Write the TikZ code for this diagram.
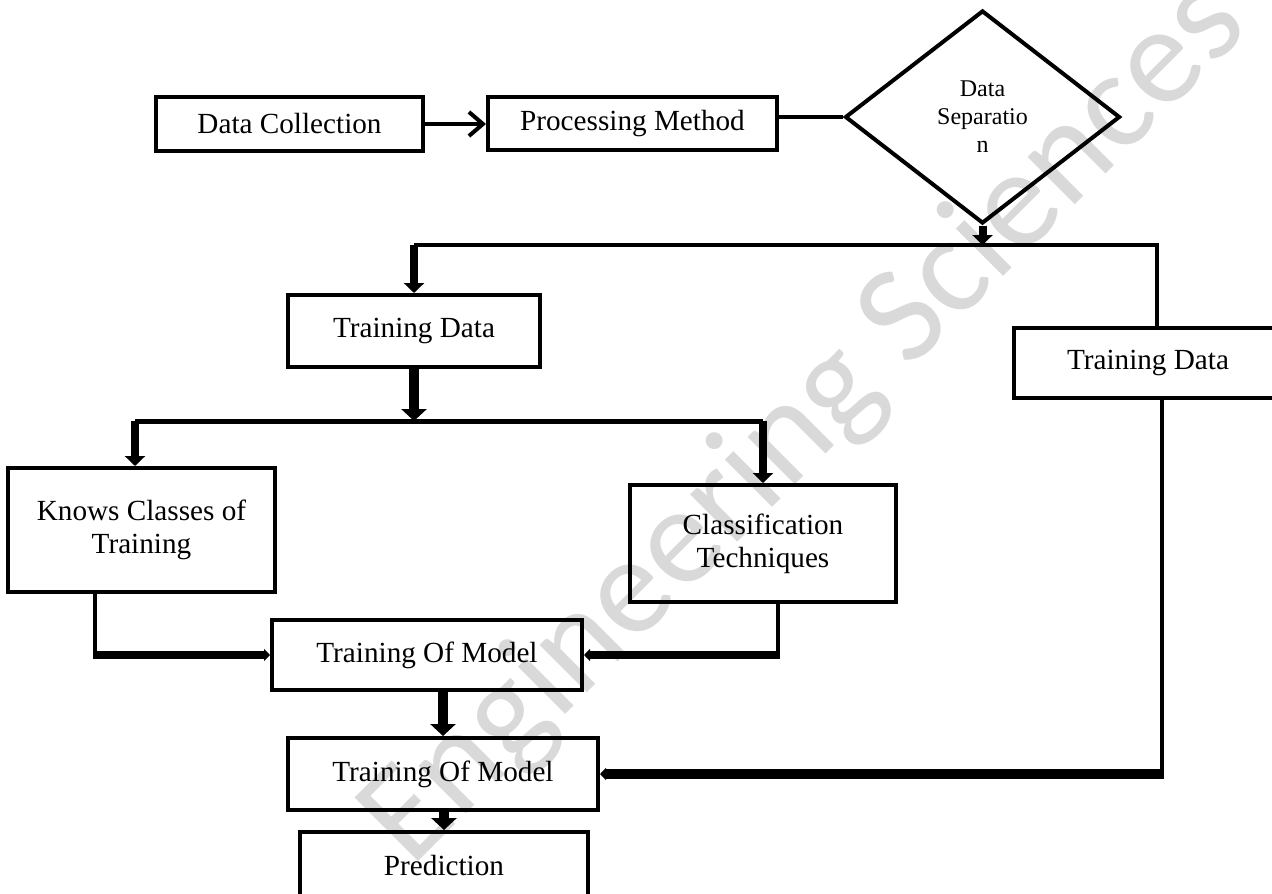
\documentclass[tikz,border=0pt]{standalone}
\usepackage{fontspec}
\setmainfont{Liberation Serif}
\setsansfont{Carlito}
\usetikzlibrary{arrows.meta,shapes.geometric,calc}
\begin{document}
\begin{tikzpicture}[x=0.5pt,y=-0.5pt,
  box/.style={draw,line width=2pt,rectangle,inner sep=0pt,align=center,font=\fontsize{14.6}{16.5}\selectfont},
  dec/.style={draw,line width=2pt,diamond,inner sep=0pt,align=center,font=\fontsize{12}{14}\selectfont},
  conn/.style={line width=2pt},
  fat/.style={line width=4pt},
  fatter/.style={line width=5pt},
  bigtip/.style={-{Triangle[width=12.5pt,length=6pt]}},
  midtip/.style={-{Triangle[width=10pt,length=5pt]}},
  smalltip/.style={-{Triangle[width=6pt,length=3pt]}},
  opentip/.style={-{Straight Barb[length=7pt,width=12pt,line width=2pt]}},
  wmark/.style={text=black!15,font=\sffamily\fontsize{70}{70}\selectfont,rotate=45,anchor=base west,inner sep=0pt}
]
\useasboundingbox (0,0) rectangle (1272,893);
\fill[white] (0,0) rectangle (1272,893);
\node[wmark] (wm) at (411,869) {Engineering Sciences};

\node[box,fill=white,minimum width=133.5pt,minimum height=27pt] (dc) at (289.5,124) {Data Collection};
\node[box,minimum width=144.5pt,minimum height=26.5pt] (pm) at (632.5,124) {Processing Method};
\node[dec,minimum width=137.5pt,minimum height=106.5pt] (dia) at (982.5,117) {Data\\Separatio\\n};
\node[box,minimum width=126pt,minimum height=36pt] (tdL) at (414,331) {Training Data};
\node[box,minimum width=134pt,minimum height=35pt] (tdR) at (1148,363) {Training Data};
\node[box,minimum width=133.5pt,minimum height=62pt] (knows) at (141.5,530) {Knows Classes of\\Training};
\node[box,minimum width=133pt,minimum height=58.5pt] (cls) at (763,543.5) {Classification\\Techniques};
\node[box,minimum width=155pt,minimum height=35pt] (tom1) at (427,655) {Training Of Model};
\node[box,minimum width=155pt,minimum height=36pt] (tom2) at (443,774) {Training Of Model};
\node[box,minimum width=144pt,minimum height=33pt] (pred) at (444,865) {Prediction};

\coordinate (j1) at (982.5,245);
\coordinate (aL) at (414,245);
\coordinate (aR) at (1157,245);
\coordinate (bL) at (135,421);
\coordinate (bR) at (763,421);
\coordinate (bM) at (414,421);
\coordinate (kc) at (95,655);
\coordinate (cc) at (778,655);
\coordinate (rc) at (1162,774);

\draw[conn,opentip] (dc.east) -- (pm.west);
\draw[conn] (dia.west) -- (dia.west -| pm.east);
\draw[fat,midtip] (dia.south) -- (j1);
\draw[conn] (aL) -- (aR) -- (aR |- tdR.north);
\draw[fat,midtip] (aL) -- (tdL.north);
\draw[fatter,bigtip] (tdL.south) -- (bM);
\draw[line width=2.5pt] (bL) -- (bR);
\draw[fat,midtip] (bL) -- (bL |- knows.north);
\draw[fat,midtip] (bR) -- (cls.north);
\draw[conn] (knows.south -| kc) -- ($(kc)+(0,4)$);
\draw[fat,smalltip] ($(kc)+(-2,0)$) -- (tom1.west);
\draw[conn] (cls.south -| cc) -- ($(cc)+(0,4)$);
\draw[fat,smalltip] ($(cc)+(2,0)$) -- (tom1.east);
\draw[fatter,bigtip] (tom1.south -| tom2.north) -- (tom2.north);
\draw[fatter,bigtip] (tom2.south -| pred.north) -- (pred.north);
\draw[conn] (tdR.south -| rc) -- ($(rc)+(0,5)$);
\draw[fatter,smalltip] ($(rc)+(2,0)$) -- (tom2.east);
\end{tikzpicture}
\end{document}
